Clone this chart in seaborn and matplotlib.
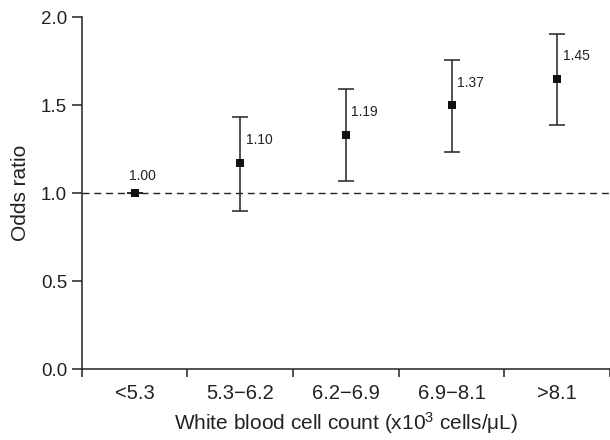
import numpy as np
import pandas as pd
import matplotlib
matplotlib.use("Agg")
import matplotlib.pyplot as plt
import seaborn as sns

# values
groups = ["<5.3", "5.3\u22126.2", "6.2\u22126.9", "6.9\u22128.1", ">8.1"]
odds = [1.00, 1.17, 1.33, 1.50, 1.65]
ci_low = [1.00, 0.90, 1.07, 1.235, 1.385]
ci_high = [1.00, 1.43, 1.59, 1.755, 1.905]
or_labels = ["1.00", "1.10", "1.19", "1.37", "1.45"]

df = pd.DataFrame({"group": groups, "odds": odds, "lo": ci_low, "hi": ci_high, "lab": or_labels})

sns.set_style("ticks")
plt.rcParams["font.family"] = ["Liberation Sans", "DejaVu Sans"]
plt.rcParams["mathtext.fontset"] = "custom"
plt.rcParams["mathtext.rm"] = "Liberation Sans"
plt.rcParams["mathtext.it"] = "Liberation Sans:italic"

ink = "#222222"
fig = plt.figure(figsize=(6.1, 4.4), dpi=100)
ax = fig.add_axes([0.134, 0.161, 0.866, 0.8])

pos = np.arange(len(df))
ax.axhline(1.0, color=ink, lw=1.0, ls=(0, (5, 3.5)), zorder=1)
ax.errorbar(pos, df["odds"], yerr=[df["odds"] - df["lo"], df["hi"] - df["odds"]],
            fmt="none", ecolor=ink, elinewidth=1.1, capsize=6, capthick=1.1, zorder=2)
sns.scatterplot(x=pos, y=df["odds"], marker="s", s=34, color="#111111",
                edgecolor="#111111", linewidth=0, ax=ax, zorder=3)

for i, row in df.iterrows():
    if i == 0:
        ax.annotate(row["lab"], (i, row["odds"]), xytext=(6, 12), textcoords="offset points",
                    ha="center", va="center", fontsize=10, color=ink)
    else:
        ymid = (row["odds"] + row["hi"]) / 2
        ax.annotate(row["lab"], (i, ymid), xytext=(4, 0), textcoords="offset points",
                    ha="left", va="center", fontsize=10, color=ink)

ax.set_xlim(-0.5, len(df) - 0.5)
ax.set_ylim(0, 2.0)
ax.set_yticks([0, 0.5, 1.0, 1.5, 2.0])
ax.set_yticklabels(["0.0", "0.5", "1.0", "1.5", "2.0"])
ax.set_xticks(np.arange(len(df) + 1) - 0.5)
ax.set_xticklabels([])
ax.set_xticks(pos, minor=True)
ax.set_xticklabels(groups, minor=True)
ax.tick_params(axis="x", which="minor", length=0, pad=11, labelsize=14.5, colors=ink)
ax.tick_params(axis="x", which="major", length=6, width=1.1, color=ink)
ax.tick_params(axis="y", length=7, width=1.1, labelsize=13.5, colors=ink)
for s in ["top", "right"]:
    ax.spines[s].set_visible(False)
for s in ["left", "bottom"]:
    ax.spines[s].set_color(ink)
    ax.spines[s].set_linewidth(1.1)

ax.set_ylabel("Odds ratio", fontsize=15, color=ink, labelpad=8)
ax.set_xlabel("White blood cell count (x10$^3$ cells/\u03bcL)", fontsize=15, color=ink, labelpad=5)

fig.savefig("out.png", dpi=100)
